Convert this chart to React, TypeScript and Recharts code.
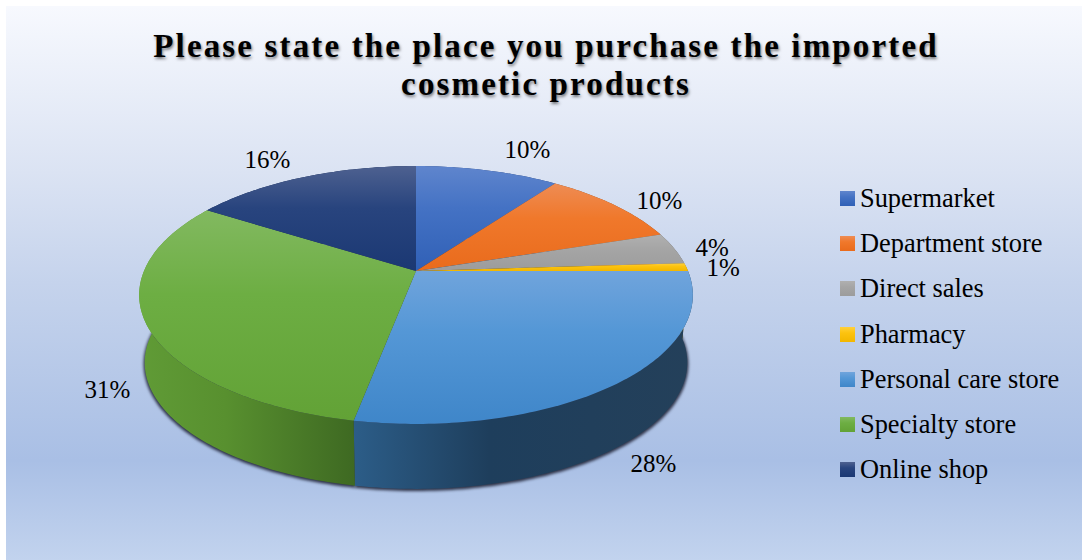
import { PieChart, Pie, Legend } from 'recharts'

const places = ['Supermarket', 'Department store', 'Direct sales', 'Pharmacy', 'Personal care store', 'Specialty store', 'Online shop']
const shares = [10, 10, 4, 1, 28, 31, 16]

const chartData = places.map((name, i) => ({ name, value: shares[i] }))

// [highlight, body, shade] of each slice's vertical gradient
const topColors = [
  ['#5f85cd', '#4472c4', '#3060b6'],
  ['#ee8c54', '#f0782b', '#e96b1c'],
  ['#b0b0b0', '#a5a5a5', '#9c9c9c'],
  ['#ffd03c', '#fcc30f', '#f2b600'],
  ['#70a4dc', '#5497d6', '#3f86c9'],
  ['#82b960', '#6dae43', '#62a236'],
  ['#4e6190', '#28447e', '#1b3873'],
]
// [left, middle, right] of the outer wall
const wallColors = [
  ['#23407a', '#23407a', '#23407a'],
  ['#8c4a1c', '#8c4a1c', '#8c4a1c'],
  ['#666666', '#666666', '#666666'],
  ['#94720a', '#94720a', '#94720a'],
  ['#2c5d88', '#1e3e5c', '#24405a'],
  ['#609b36', '#58902f', '#3e6922'],
  ['#12264f', '#12264f', '#12264f'],
]

// label offset from the rim point at each slice's middle angle
const labelOffsets = [[40, -21], [45, -5], [38, -1], [37, 0], [35, 81], [-39, 65], [-36, -18]]

// tilted disc: the near edge reads bigger than the far edge
const SQUASH = 0.4577
const PERSPECTIVE = -0.186
const BASE_SHRINK = 0.98
const BASE_DROP = 68

function rimPoint(cx: number, cy: number, r: number, angle: number, shrink = 1, drop = 0) {
  const rad = (angle * Math.PI) / 180
  const X = Math.cos(rad)
  const Y = -Math.sin(rad)
  const d = 1 + PERSPECTIVE * Y
  return [cx + (shrink * r * X) / d, cy + drop + (shrink * r * SQUASH * Y) / d]
}

function arcPoints(p: any, shrink = 1, drop = 0) {
  const pts = []
  const steps = Math.max(2, Math.ceil(Math.abs(p.endAngle - p.startAngle)))
  for (let s = 0; s <= steps; s++) {
    const a = p.startAngle + ((p.endAngle - p.startAngle) * s) / steps
    pts.push(rimPoint(p.cx, p.cy, p.outerRadius, a, shrink, drop))
  }
  return pts
}

const toPath = (pts: number[][]) => 'M' + pts.map(q => `${q[0].toFixed(2)},${q[1].toFixed(2)}`).join('L') + 'Z'

function TopSlice(p: any) {
  const d = toPath([[p.cx, p.cy], ...arcPoints(p)])
  return <path d={d} fill={`url(#top${p.index})`} stroke="none" />
}

function WallSlice(p: any) {
  const upper = arcPoints(p)
  const lower = arcPoints(p, BASE_SHRINK, BASE_DROP).reverse()
  return <path d={toPath([...upper, ...lower])} fill={`url(#wall${p.index})`} stroke="none" />
}

function ShadowSlice(p: any) {
  const d = toPath([[p.cx, p.cy + BASE_DROP], ...arcPoints(p, BASE_SHRINK + 0.004, BASE_DROP + 1.5)])
  return <path d={d} fill="#2c3146" stroke="none" style={{ filter: 'blur(1.6px)' }} />
}

function SliceLabel(p: any) {
  const [x, y] = rimPoint(p.cx, p.cy, p.outerRadius, p.midAngle)
  const [dx, dy] = labelOffsets[p.index]
  return (
    <text x={x + dx} y={y + dy} textAnchor="middle" dominantBaseline="central" fill="#000" fontSize={25} fontFamily="'Liberation Serif'">
      {`${p.value}%`}
    </text>
  )
}

function PlaceLegend({ payload }: any) {
  const rows = (payload ?? []).filter((entry: any) => entry.type !== 'none')
  return (
    <div>
      {rows.map((entry: any, i: number) => (
        <div key={entry.value} style={{ display: 'flex', alignItems: 'center', height: 45.2 }}>
          <svg width={15} height={15} style={{ marginRight: 5 }}>
            <rect width={15} height={15} fill={`url(#top${i})`} />
          </svg>
          <span style={{ fontSize: 26.4, color: '#000', fontFamily: "'Liberation Serif'", whiteSpace: 'nowrap' }}>{entry.value}</span>
        </div>
      ))}
    </div>
  )
}

const titleLine = {
  position: 'absolute', left: 10, width: 1072, textAlign: 'center', whiteSpace: 'nowrap',
  fontFamily: "'Liberation Serif'", fontWeight: 'bold', fontSize: 33, letterSpacing: 2.15, lineHeight: '38px',
  color: '#000', textShadow: '1px 2px 3px rgba(0,0,0,0.5)',
} as const

export default function App() {
  return (
    <div style={{ position: 'absolute', left: 0, top: 0, width: 1082, height: 560, background: '#fff', overflow: 'hidden' }}>
      <div style={{
        position: 'absolute', left: 6, top: 6, width: 1076, height: 554,
        background: 'linear-gradient(180deg, #f7f9fe 0%, #dbe3f3 30%, #c5d3ec 50%, #a9bfe5 82%, #c2d3ee 100%)',
      }} />
      <div style={{ ...titleLine, top: 27 }}>Please state the place you purchase the imported</div>
      <div style={{ ...titleLine, top: 65 }}>cosmetic products</div>
      <div style={{ position: 'absolute', left: 0, top: 0 }}>
        <PieChart width={1082} height={560} margin={{ top: 0, right: 0, bottom: 0, left: 0 }}>
          <defs>
            {topColors.map((c, i) => (
              <linearGradient key={i} id={`top${i}`} x1="0" y1="0" x2="0" y2="1">
                <stop offset="0%" stopColor={c[0]} />
                <stop offset="40%" stopColor={c[1]} />
                <stop offset="100%" stopColor={c[2]} />
              </linearGradient>
            ))}
            {wallColors.map((c, i) => (
              <linearGradient key={i} id={`wall${i}`} x1="0" y1="0" x2="1" y2="0">
                <stop offset="0%" stopColor={c[0]} />
                <stop offset="40%" stopColor={c[1]} />
                <stop offset="100%" stopColor={c[2]} />
              </linearGradient>
            ))}
          </defs>
          <Pie data={chartData} dataKey="value" nameKey="name" cx={416} cy={271} outerRadius={272} startAngle={90} endAngle={-270}
            legendType="none" shape={ShadowSlice} isAnimationActive={false} />
          <Pie data={chartData} dataKey="value" nameKey="name" cx={416} cy={271} outerRadius={272} startAngle={90} endAngle={-270}
            legendType="none" shape={WallSlice} isAnimationActive={false} />
          <Pie data={chartData} dataKey="value" nameKey="name" cx={416} cy={271} outerRadius={272} startAngle={90} endAngle={-270}
            shape={TopSlice} label={SliceLabel} labelLine={false} isAnimationActive={false} />
          <Legend content={PlaceLegend} itemSorter={null} layout="vertical" align="right" verticalAlign="top"
            wrapperStyle={{ left: 840, top: 176, width: 240 }} />
        </PieChart>
      </div>
    </div>
  )
}
